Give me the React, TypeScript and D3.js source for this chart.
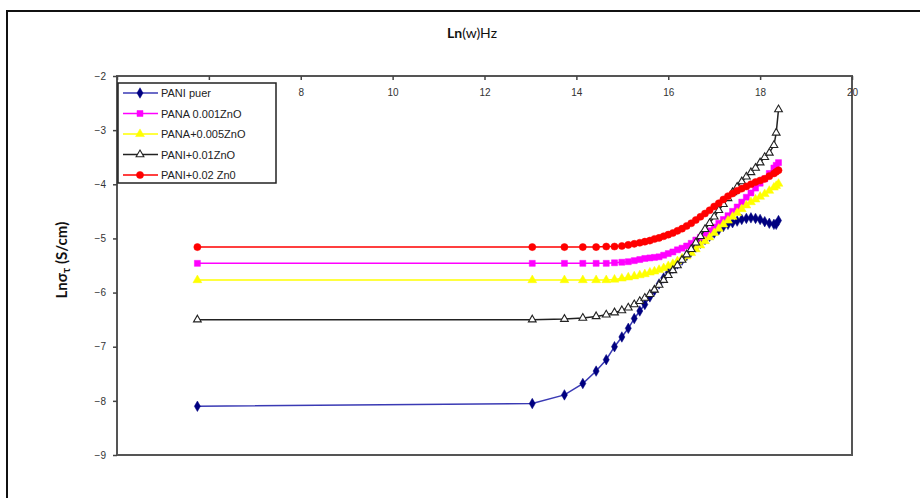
import React, { useEffect, useRef } from "react";
import * as d3 from "d3";

// Ln(w) values shared by every sample
const logW = [
  5.75, 13.04, 13.74, 14.14, 14.43, 14.65, 14.83, 14.99, 15.13, 15.26, 15.38, 15.49, 15.6, 15.7,
  15.8, 15.9, 16.0, 16.1, 16.2, 16.3, 16.4, 16.5, 16.6, 16.7, 16.8, 16.9, 17.0, 17.1, 17.2, 17.3,
  17.4, 17.5, 17.6, 17.7, 17.8, 17.9, 18.0, 18.1, 18.2, 18.3, 18.35, 18.4,
];

const paniPuer = [
  -8.1, -8.05, -7.89, -7.68, -7.45, -7.24, -7.0, -6.82, -6.66, -6.48, -6.34, -6.22, -6.08, -5.96,
  -5.84, -5.73, -5.63, -5.55, -5.47, -5.4, -5.32, -5.24, -5.16, -5.09, -5.02, -4.96, -4.9, -4.84,
  -4.78, -4.74, -4.71, -4.68, -4.65, -4.63, -4.62, -4.63, -4.65, -4.69, -4.72, -4.74, -4.74, -4.67,
];
const pana001 = [
  -5.46, -5.46, -5.46, -5.46, -5.46, -5.46, -5.45, -5.44, -5.43, -5.41, -5.39, -5.37, -5.36, -5.35,
  -5.34, -5.31, -5.28, -5.25, -5.21, -5.18, -5.14, -5.09, -5.03, -4.98, -4.92, -4.86, -4.79, -4.72,
  -4.65, -4.58, -4.5, -4.42, -4.33, -4.24, -4.16, -4.07, -3.98, -3.9, -3.8, -3.7, -3.65, -3.6,
];
const pana005 = [
  -5.77, -5.77, -5.77, -5.77, -5.77, -5.77, -5.76, -5.74, -5.72, -5.7, -5.68, -5.66, -5.63, -5.61,
  -5.58, -5.55, -5.51, -5.47, -5.42, -5.37, -5.33, -5.27, -5.2, -5.13, -5.05, -4.98, -4.9, -4.82,
  -4.74, -4.67, -4.6, -4.53, -4.46, -4.39, -4.33, -4.28, -4.23, -4.18, -4.12, -4.06, -4.03, -3.99,
];
const pani01 = [
  -6.5, -6.5, -6.49, -6.47, -6.44, -6.41, -6.37, -6.33, -6.28, -6.22, -6.16, -6.1, -6.03, -5.95,
  -5.86, -5.77, -5.68, -5.59, -5.5, -5.4, -5.3, -5.2, -5.08, -4.96, -4.83, -4.72, -4.6, -4.48,
  -4.37, -4.26, -4.15, -4.05, -3.95, -3.86, -3.78, -3.7, -3.6, -3.5, -3.42, -3.28, -3.05, -2.62,
];
const pani02 = [
  -5.16, -5.16, -5.16, -5.16, -5.16, -5.15, -5.15, -5.14, -5.12, -5.1, -5.08, -5.06, -5.04, -5.01,
  -4.99, -4.96, -4.93, -4.9, -4.86, -4.82, -4.77, -4.72, -4.66, -4.6, -4.54, -4.48, -4.41, -4.35,
  -4.28, -4.22, -4.17, -4.12, -4.08, -4.04, -4.0, -3.96, -3.93, -3.9, -3.85, -3.8, -3.77, -3.74,
];

const seriesNames = ["PANI puer", "PANA  0.001ZnO", "PANA+0.005ZnO", "PANI+0.01ZnO", "PANI+0.02 Zn0"];
const lineColors = ["#3a3ab4", "#ff00ff", "#ffff00", "#222222", "#ff0000"];
const markColors = ["#000080", "#ff00ff", "#ffff00", "#222222", "#ff0000"];
const seriesValues = [paniPuer, pana001, pana005, pani01, pani02];
const seriesSymbols = [d3.symbolDiamond, d3.symbolSquare, d3.symbolTriangle, d3.symbolTriangle, d3.symbolCircle];
const symbolSizes = [32, 36, 34, 26, 40];

const xTicks = [4, 6, 8, 10, 12, 14, 16, 18, 20];
const xTickLabels = ["", "", "8", "10", "12", "14", "16", "18", "20"]; // 4 and 6 sit under the legend
const yTicks = [-2, -3, -4, -5, -6, -7, -8, -9];

const W = 920;
const H = 498;

const App = () => {
  const ref = useRef<SVGSVGElement>(null);

  useEffect(() => {
    const svg = d3.select(ref.current);
    svg.selectAll("*").remove();

    const left = 117, right = 852, top = 76, bottom = 455;
    const x = d3.scaleLinear().domain([4, 20]).range([left, right]);
    const y = d3.scaleLinear().domain([-9, -2]).range([bottom, top]);

    // outer page frame
    svg.append("line").attr("x1", 6).attr("x2", W).attr("y1", 11).attr("y2", 11)
      .attr("stroke", "#111").attr("stroke-width", 2);
    svg.append("line").attr("x1", 7).attr("x2", 7).attr("y1", 11).attr("y2", H)
      .attr("stroke", "#111").attr("stroke-width", 2);

    // title
    const title = svg.append("text").attr("x", 472).attr("y", 38).attr("text-anchor", "middle")
      .attr("font-family", "Lato, 'Open Sans', sans-serif").attr("font-size", 14).attr("fill", "#111");
    title.append("tspan").attr("font-weight", "bold").text("Ln");
    title.append("tspan").text("(w)Hz");

    // y label
    const yl = svg.append("text").attr("transform", "translate(67,260) rotate(-90)")
      .attr("text-anchor", "middle").attr("font-family", "Lato, 'Open Sans', sans-serif")
      .attr("font-size", 15).attr("font-weight", "bold").attr("fill", "#111");
    yl.append("tspan").text("Lnσ");
    yl.append("tspan").attr("font-size", 11).attr("dy", 3).text("τ");
    yl.append("tspan").attr("dy", -3).text(" (S/cm)");

    // plot box
    svg.append("rect").attr("x", left).attr("y", top).attr("width", right - left).attr("height", bottom - top)
      .attr("fill", "none").attr("stroke", "#555").attr("stroke-width", 2);

    // y axis
    const ya = svg.append("g").attr("transform", `translate(${left},0)`)
      .call(d3.axisLeft(y).tickValues(yTicks).tickSize(4).tickFormat(d3.format("d")));
    ya.select(".domain").remove();
    ya.selectAll("line").attr("stroke", "#444").attr("stroke-width", 1.5);
    ya.selectAll("text").attr("font-family", "Arial, 'Liberation Sans', sans-serif")
      .attr("font-size", 10).attr("fill", "#333").attr("dx", -4);

    // x axis at the top, labels inside
    const xa = svg.append("g").attr("transform", `translate(0,${top})`)
      .call(d3.axisBottom(x).tickValues(xTicks).tickSize(4).tickFormat((_, i) => xTickLabels[i]));
    xa.select(".domain").remove();
    xa.selectAll("line").attr("stroke", "#444").attr("stroke-width", 1.5);
    xa.selectAll("text").attr("font-family", "Arial, 'Liberation Sans', sans-serif")
      .attr("font-size", 10).attr("fill", "#333").attr("dy", "1.25em");

    const line = d3.line<number>().x((_, i) => x(logW[i])).y((d) => y(d));

    seriesValues.forEach((vals, s) => {
      const g = svg.append("g");
      g.append("path").datum(vals).attr("d", line).attr("fill", "none")
        .attr("stroke", lineColors[s]).attr("stroke-width", 1.5);
      const sym = d3.symbol().type(seriesSymbols[s]).size(symbolSizes[s]);
      g.selectAll("path.m").data(vals).enter().append("path").attr("class", "m")
        .attr("d", sym)
        .attr("transform", (d, i) => `translate(${x(logW[i])},${y(d)})`)
        .attr("fill", s === 3 ? "#fff" : markColors[s])
        .attr("stroke", markColors[s])
        .attr("stroke-width", s === 3 ? 1.1 : 0.5);
    });

    // legend
    const lg = svg.append("g");
    lg.append("rect").attr("x", 118).attr("y", 83).attr("width", 158).attr("height", 100)
      .attr("fill", "#fff").attr("stroke", "#222").attr("stroke-width", 1.5);
    seriesNames.forEach((name, s) => {
      const ly = 93 + s * 20.5;
      lg.append("line").attr("x1", 123).attr("x2", 158).attr("y1", ly).attr("y2", ly)
        .attr("stroke", lineColors[s]).attr("stroke-width", 1.5);
      lg.append("path").attr("d", d3.symbol().type(seriesSymbols[s]).size(symbolSizes[s])())
        .attr("transform", `translate(140,${ly})`)
        .attr("fill", s === 3 ? "#fff" : markColors[s]).attr("stroke", markColors[s])
        .attr("stroke-width", s === 3 ? 1.1 : 0.5);
      lg.append("text").attr("x", 161).attr("y", ly + 4).attr("font-family", "Arial, 'Liberation Sans', sans-serif")
        .attr("font-size", 11).attr("fill", "#222").text(name);
    });
  }, []);

  return (
    <svg ref={ref} width={W} height={H}
      style={{ position: "absolute", left: 0, top: 0, background: "#fff" }} />
  );
};

export default App;
